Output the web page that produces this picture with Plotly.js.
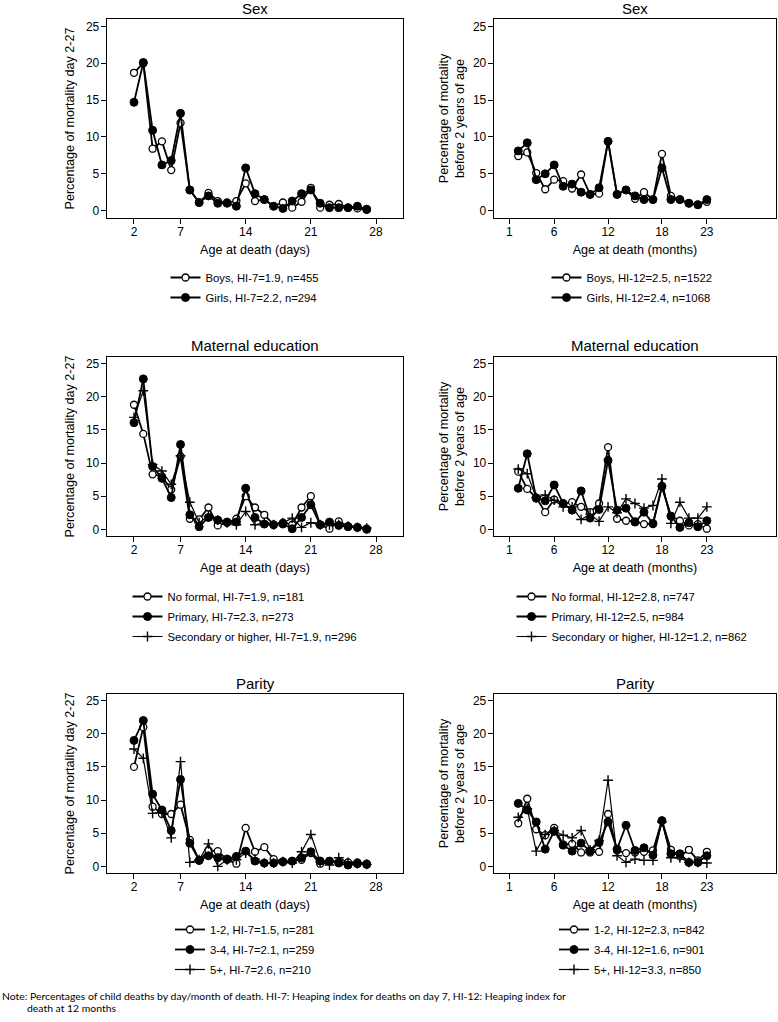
<!DOCTYPE html>
<html>
<head>
<meta charset="utf-8">
<script src="https://cdn.plot.ly/plotly-3.0.1.min.js"></script>
<style>
  html, body { margin: 0; padding: 0; background: #fff; }
  #chart { width: 778px; height: 1022px; }
</style>
</head>
<body>
<div id="chart"></div>
<script>
// ages at death
var days = [2,3,4,5,6,7,8,9,10,11,12,13,14,15,16,17,18,19,20,21,22,23,24,25,26,27];
var months = [2,3,4,5,6,7,8,9,10,11,12,13,14,15,16,17,18,19,20,21,22,23];
var dayTicks = [2,7,14,21,28];
var monthTicks = [1,6,12,18,23];

// sex
var boysDay = [18.7,20.0,8.4,9.4,5.5,11.9,2.8,1.1,2.4,1.3,1.1,1.3,3.7,1.3,1.5,0.6,1.1,0.4,1.2,3.1,0.4,0.8,0.9,0.4,0.3,0.1];
var girlsDay = [14.7,20.1,10.9,6.2,6.8,13.2,2.8,1.1,2.0,1.0,1.0,0.6,5.8,2.3,1.5,0.6,0.3,1.3,2.3,2.8,1.0,0.4,0.4,0.4,0.6,0.2];
var boysMonth = [7.4,7.9,5.1,2.9,4.2,4.0,3.0,4.9,2.2,2.3,9.4,2.2,2.8,1.6,2.5,1.5,7.7,2.0,1.5,1.0,0.8,1.2];
var girlsMonth = [8.1,9.2,4.2,5.0,6.2,3.3,3.6,2.5,2.2,3.1,9.4,2.2,2.8,2.0,1.5,1.5,5.8,1.5,1.5,1.0,0.8,1.5];

// maternal education
var noFormalDay = [18.8,14.4,8.3,8.0,6.0,11.0,1.6,1.5,3.3,0.6,1.0,1.6,5.0,3.3,2.2,0.7,1.0,0.7,3.3,5.0,0.7,0.1,1.2,0.5,0.3,0.1];
var primaryDay = [16.1,22.7,9.5,7.7,4.8,12.8,2.2,0.4,1.8,1.4,1.1,1.1,6.2,1.8,0.8,0.7,0.8,0.1,1.8,3.7,0.7,1.1,0.6,0.4,0.3,0.0];
var secondaryDay = [16.9,20.9,9.8,8.8,6.8,11.1,4.1,1.0,2.0,1.4,1.0,0.7,2.7,0.7,1.0,0.7,1.0,1.7,0.3,1.0,0.7,0.7,0.7,0.5,0.3,0.2];
var noFormalMonth = [8.7,6.1,4.8,2.6,4.5,3.9,4.1,3.4,2.6,3.9,12.4,1.6,1.3,1.2,0.8,0.8,6.4,2.0,1.3,0.6,0.8,0.1];
var primaryMonth = [6.2,11.4,4.7,4.3,6.7,3.9,2.9,5.8,1.7,3.0,10.4,2.9,3.2,1.1,2.6,0.9,6.5,2.0,0.3,1.0,0.4,1.3];
var secondaryMonth = [9.1,8.4,4.8,5.2,4.4,3.4,3.4,1.5,2.3,1.2,3.4,2.5,4.6,3.9,3.2,3.6,7.6,0.9,4.1,1.7,1.7,3.4];

// parity
var parity12Day = [15.0,21.0,9.0,7.9,7.9,9.3,4.0,0.9,2.4,2.3,1.0,0.4,5.8,2.2,2.9,1.1,0.7,0.8,1.0,2.0,0.4,0.8,0.6,0.6,0.6,0.4];
var parity34Day = [19.0,22.0,10.9,8.5,5.4,13.1,3.5,0.9,1.6,1.3,1.1,1.5,2.3,0.8,0.5,0.5,0.7,0.8,1.3,2.2,0.8,0.8,0.5,0.2,0.4,0.3];
var parity5Day = [17.7,16.3,8.0,8.2,4.3,15.8,0.6,1.0,3.4,0.0,1.0,1.0,2.0,1.1,0.5,0.5,0.7,0.5,2.2,4.8,0.7,0.2,1.3,0.6,0.4,0.3];
var parity12Month = [6.5,10.2,5.6,4.7,5.8,3.3,3.4,2.1,2.1,2.2,7.9,2.4,2.0,2.1,2.2,2.4,6.9,2.5,1.5,2.5,0.9,2.2];
var parity34Month = [9.5,8.5,6.7,2.6,5.3,3.2,2.3,3.5,2.3,3.6,6.7,2.6,6.2,2.4,2.8,1.7,6.9,1.9,1.9,0.6,0.6,1.6];
var parity5Month = [7.4,8.7,2.3,4.8,5.4,4.7,4.3,5.4,2.5,3.9,13.0,1.6,0.6,1.1,0.9,0.9,6.7,1.3,1.3,0.6,0.6,0.5];

var panelTitles = ['Sex', 'Maternal education', 'Parity'];
var legendLabels = [
  ['Boys, HI-7=1.9, n=455', 'Girls, HI-7=2.2, n=294'],
  ['Boys, HI-12=2.5, n=1522', 'Girls, HI-12=2.4, n=1068'],
  ['No formal, HI-7=1.9, n=181', 'Primary, HI-7=2.3, n=273', 'Secondary or higher, HI-7=1.9, n=296'],
  ['No formal, HI-12=2.8, n=747', 'Primary, HI-12=2.5, n=984', 'Secondary or higher, HI-12=1.2, n=862'],
  ['1-2, HI-7=1.5, n=281', '3-4, HI-7=2.1, n=259', '5+, HI-7=2.6, n=210'],
  ['1-2, HI-12=2.3, n=842', '3-4, HI-12=1.6, n=901', '5+, HI-12=3.3, n=850']
];
var noteText = 'Note: Percentages of child deaths by day/month of death. HI-7: Heaping index for deaths on day 7, HI-12: Heaping index for';
var noteText2 = 'death at 12 months';

var W = 778, H = 1022;
var FONT = 'Liberation Sans, Arial, sans-serif';

// marker styles: hollow circle, filled circle, plus
var styles = [
  {symbol: 'circle', color: 'white', size: 7, lw: 1.3, width: 1.8},
  {symbol: 'circle', color: 'black', size: 8, lw: 1, width: 1.8},
  {symbol: 'cross-thin', color: 'black', size: 7, lw: 1.4, width: 1.2}
];

function px2x(p) { return p / W; }
function px2y(p) { return 1 - p / H; }

var colX = [[107, 403], [494, 776]];
var rowY = [[19, 218], [357, 536], [694, 873]];
var legendDrop = [45, 46, 42];

var series = [
  [days, [boysDay, girlsDay]],
  [months, [boysMonth, girlsMonth]],
  [days, [noFormalDay, primaryDay, secondaryDay]],
  [months, [noFormalMonth, primaryMonth, secondaryMonth]],
  [days, [parity12Day, parity34Day, parity5Day]],
  [months, [parity12Month, parity34Month, parity5Month]]
];

var data = [];
var layout = {
  width: W, height: H,
  margin: {l: 0, r: 0, t: 0, b: 0},
  paper_bgcolor: 'white',
  plot_bgcolor: 'white',
  font: {family: FONT, color: 'black', size: 11},
  showlegend: true,
  annotations: [],
  hovermode: false
};

for (var p = 0; p < 6; p++) {
  var col = p % 2, row = Math.floor(p / 2);
  var sfx = p === 0 ? '' : String(p + 1);
  var xs = series[p][0], ys = series[p][1];
  var legName = 'legend' + sfx;

  for (var s = 0; s < ys.length; s++) {
    var st = styles[s];
    data.push({
      x: xs, y: ys[s],
      xaxis: 'x' + sfx, yaxis: 'y' + sfx,
      type: 'scatter', mode: 'lines+markers',
      name: legendLabels[p][s],
      legend: legName,
      legendgroup: 'g' + p + '_' + s,
      line: {color: 'black', width: st.width},
      marker: {symbol: st.symbol, size: st.size, color: st.color,
               line: {color: 'black', width: st.lw}},
      cliponaxis: false
    });
  }

  layout['xaxis' + sfx] = {
    domain: [px2x(colX[col][0]), px2x(colX[col][1])],
    range: col === 0 ? [-0.9, 30.9] : [-0.7, 30.7],
    anchor: 'y' + sfx,
    tickmode: 'array',
    tickvals: col === 0 ? dayTicks : monthTicks,
    ticks: 'outside', ticklen: 5, tickwidth: 1, tickcolor: 'black',
    ticklabelstandoff: -3,
    showline: true, mirror: true, linecolor: 'black', linewidth: 1.3,
    showgrid: false, zeroline: false,
    tickfont: {size: 12},
    title: {text: col === 0 ? 'Age at death (days)' : 'Age at death (months)',
            font: {size: 12.6}, standoff: 7}
  };
  layout['yaxis' + sfx] = {
    domain: [px2y(rowY[row][1]), px2y(rowY[row][0])],
    range: [-1, 26],
    anchor: 'x' + sfx,
    tickmode: 'array',
    tickvals: [0, 5, 10, 15, 20, 25],
    ticks: 'outside', ticklen: 5, tickwidth: 1, tickcolor: 'black',
    ticklabelstandoff: -1,
    showline: true, mirror: true, linecolor: 'black', linewidth: 1.3,
    showgrid: false, zeroline: false,
    tickfont: {size: 12},
    title: {text: col === 0 ? 'Percentage of mortality day 2-27'
                            : 'Percentage of mortality<br>before 2 years of age',
            font: {size: 12.6}, standoff: col === 0 ? 8 : 5}
  };

  layout[legName] = {
    x: px2x(col === 0 ? 245 : 632), xanchor: 'center',
    y: px2y(rowY[row][1] + legendDrop[row]), yanchor: 'top',
    orientation: 'v',
    traceorder: 'grouped', tracegroupgap: 1,
    bgcolor: 'rgba(0,0,0,0)', borderwidth: 0,
    font: {size: 11.3, family: FONT}
  };

  layout.annotations.push({
    text: panelTitles[row],
    xref: 'paper', yref: 'paper',
    x: px2x((colX[col][0] + colX[col][1]) / 2),
    y: px2y(rowY[row][0] - 11),
    xanchor: 'center', yanchor: 'middle',
    showarrow: false,
    font: {size: 15, family: FONT}
  });
}

layout.annotations.push({
  text: noteText, xref: 'paper', yref: 'paper',
  x: 0, y: px2y(996), xanchor: 'left', yanchor: 'middle',
  showarrow: false, font: {size: 10.4, family: 'Lato, sans-serif'}
});
layout.annotations.push({
  text: noteText2, xref: 'paper', yref: 'paper',
  x: px2x(25), y: px2y(1008), xanchor: 'left', yanchor: 'middle',
  showarrow: false, font: {size: 10.4, family: 'Lato, sans-serif'}
});

Plotly.newPlot('chart', data, layout, {staticPlot: true});
</script>
</body>
</html>
